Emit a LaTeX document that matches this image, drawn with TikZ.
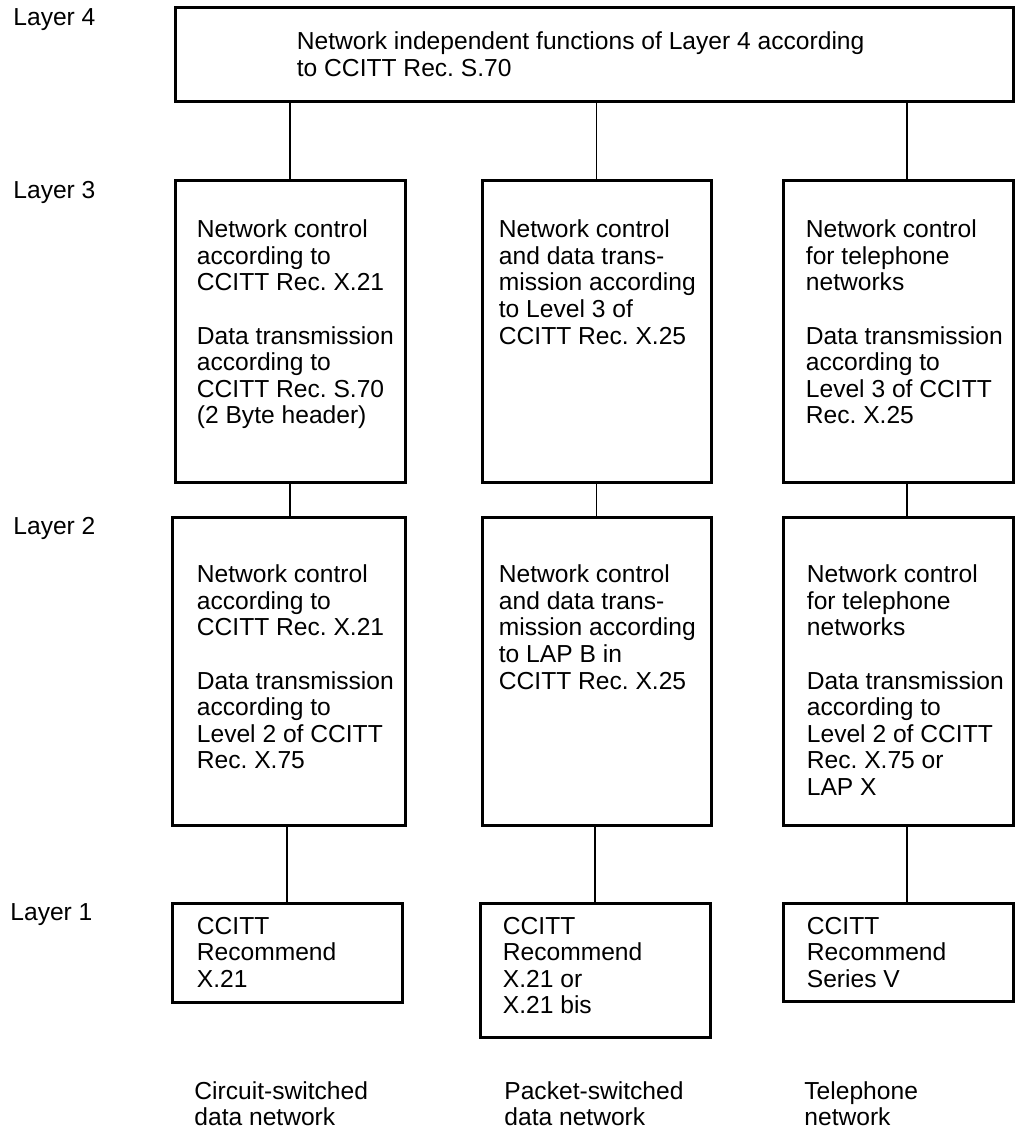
\documentclass[tikz,border=0pt]{standalone}
\usepackage{fontspec}
\setmainfont{Liberation Sans}
\frenchspacing
\begin{document}
\begin{tikzpicture}[x=0.5pt,y=-0.5pt,
	blk/.style={draw,line width=1.5pt,inner sep=0pt},
	lnk/.style={line width=0.75pt},
	txt/.style={anchor=north west,inner sep=0pt,align=left,font=\fontsize{12.3}{13.3}\selectfont},
	lbl/.style={anchor=west,inner sep=0pt,font=\fontsize{12.3}{13.3}\selectfont}]
		\useasboundingbox (0,0) rectangle (1016,1129);
		
		% layer labels
		\node[lbl] (lay4) at (13,20) {Layer 4};
		\node[lbl] (lay3) at (13,192) {Layer 3};
		\node[lbl] (lay2) at (13,528) {Layer 2};
		\node[lbl] (lay1) at (10,915) {Layer 1};
		
		% boxes
		\node[blk,minimum width=419pt,minimum height=47pt] (l4) at (594,55) {};
		
		\node[blk,minimum width=115pt,minimum height=151pt] (l3a) at (290,331) {};
		\node[blk,minimum width=114.5pt,minimum height=151pt] (l3b) at (596.5,331) {};
		\node[blk,minimum width=115pt,minimum height=151pt] (l3c) at (898,331) {};
		
		\node[blk,minimum width=116.5pt,minimum height=154pt] (l2a) at (288.5,671) {};
		\node[blk,minimum width=114.5pt,minimum height=154pt] (l2b) at (596.5,671) {};
		\node[blk,minimum width=115pt,minimum height=154pt] (l2c) at (898,671) {};
		
		\node[blk,minimum width=115pt,minimum height=49.5pt] (l1a) at (287,952.5) {};
		\node[blk,minimum width=115pt,minimum height=67pt] (l1b) at (595,970) {};
		\node[blk,minimum width=115pt,minimum height=49pt] (l1c) at (898,952) {};
		
		% links
		\draw[lnk] (l4.south -| l3a.north) -- (l3a.north);
		\draw[lnk] (l4.south -| l3b.north) -- (l3b.north);
		\draw[lnk] ([xshift=4.5pt]l4.south -| l3c.north) -- ([xshift=4.5pt]l3c.north);
		\draw[lnk] (l3a.south) -- (l2a.north -| l3a.south);
		\draw[lnk] (l3b.south) -- (l2b.north -| l3b.south);
		\draw[lnk] ([xshift=4.5pt]l3c.south) -- ([xshift=4.5pt]l2c.north);
		\draw[lnk] (l2a.south -| l1a.north) -- (l1a.north);
		\draw[lnk] (l2b.south -| l1b.north) -- (l1b.north);
		\draw[lnk] ([xshift=4.5pt]l2c.south) -- ([xshift=4.5pt]l1c.north);
		
		% box texts
		\node[txt] (t4) at ([shift={(123,25)}]l4.north west) {Network independent functions of Layer 4 according\\to CCITT Rec. S.70};
		
		\node[txt] (t3a) at ([shift={(23,41)}]l3a.north west) {Network control\\according to\\CCITT Rec. X.21\\[13.3pt]Data transmission\\according to\\CCITT Rec. S.70\\(2 Byte header)};
		\node[txt] (t3b) at ([shift={(18,41)}]l3b.north west) {Network control\\and data trans-\\mission according\\to Level 3 of\\CCITT Rec. X.25};
		\node[txt] (t3c) at ([shift={(24,41)}]l3c.north west) {Network control\\for telephone\\networks\\[13.3pt]Data transmission\\according to\\Level 3 of CCITT\\Rec. X.25};
		
		\node[txt] (t2a) at ([shift={(26,49)}]l2a.north west) {Network control\\according to\\CCITT Rec. X.21\\[13.3pt]Data transmission\\according to\\Level 2 of CCITT\\Rec. X.75};
		\node[txt] (t2b) at ([shift={(18,49)}]l2b.north west) {Network control\\and data trans-\\mission according\\to LAP B in\\CCITT Rec. X.25};
		\node[txt] (t2c) at ([shift={(25,49)}]l2c.north west) {Network control\\for telephone\\networks\\[13.3pt]Data transmission\\according to\\Level 2 of CCITT\\Rec. X.75 or\\LAP X};
		
		\node[txt] (t1a) at ([shift={(26,15)}]l1a.north west) {CCITT\\Recommend\\X.21};
		\node[txt] (t1b) at ([shift={(24,15)}]l1b.north west) {CCITT\\Recommend\\X.21 or\\X.21 bis};
		\node[txt] (t1c) at ([shift={(25,15)}]l1c.north west) {CCITT\\Recommend\\Series V};
		
		% network names
		\node[txt] (n1) at (194,1081) {Circuit-switched\\data network};
		\node[txt] (n2) at (504,1081) {Packet-switched\\data network};
		\node[txt] (n3) at (804,1081) {Telephone\\network};
\end{tikzpicture}
\end{document}
